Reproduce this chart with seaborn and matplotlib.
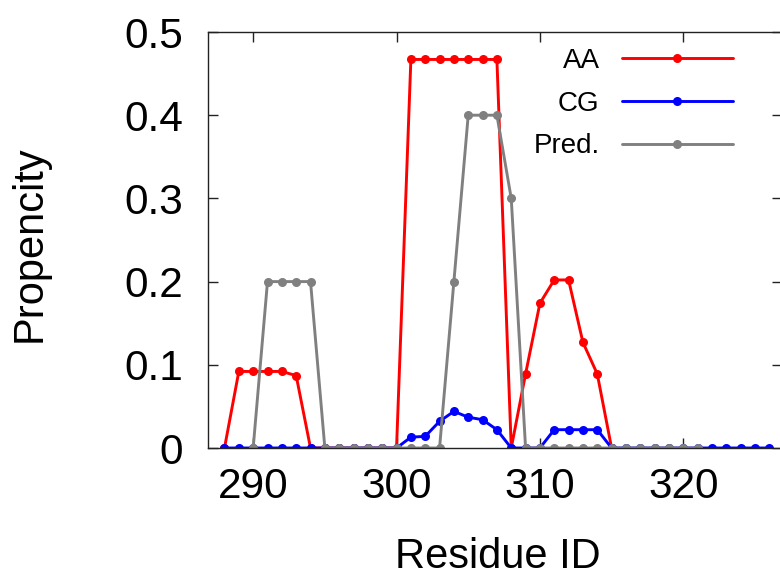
import numpy as np
import pandas as pd
import matplotlib.pyplot as plt
import seaborn as sns

# Residue IDs and propensity per data source
aa_resid = list(range(288, 316))
aa_prop = [0, 0.092, 0.092, 0.092, 0.092, 0.087, 0,
           0, 0, 0, 0, 0, 0,
           0.467, 0.467, 0.467, 0.467, 0.467, 0.467, 0.467,
           0, 0.089, 0.174, 0.202, 0.202, 0.127, 0.089, 0]

cg_resid = list(range(288, 327))
cg_prop = [0, 0, 0, 0, 0, 0, 0, 0, 0, 0, 0, 0,
           0, 0.013, 0.014, 0.032, 0.044, 0.037, 0.034, 0.022,
           0, 0, 0, 0.022, 0.022, 0.022, 0.022,
           0, 0, 0, 0, 0, 0, 0, 0, 0, 0, 0, 0]

pred_resid = list(range(290, 322))
pred_prop = [0, 0.2, 0.2, 0.2, 0.2,
             0, 0, 0, 0, 0, 0, 0, 0, 0,
             0.2, 0.4, 0.4, 0.4, 0.3,
             0, 0, 0, 0, 0, 0, 0, 0, 0, 0, 0, 0, 0]

series_names = ["AA", "CG", "Pred."]
series_colors = {"AA": "#ff0000", "CG": "#0000ff", "Pred.": "#808080"}
x_ticks = [290, 300, 310, 320]
y_ticks = [0, 0.1, 0.2, 0.3, 0.4, 0.5]
y_tick_labels = ["0", "0.1", "0.2", "0.3", "0.4", "0.5"]

df = pd.concat([
    pd.DataFrame({"Residue": aa_resid, "Propencity": aa_prop, "Series": "AA"}),
    pd.DataFrame({"Residue": cg_resid, "Propencity": cg_prop, "Series": "CG"}),
    pd.DataFrame({"Residue": pred_resid, "Propencity": pred_prop, "Series": "Pred."}),
], ignore_index=True)

sns.set_style("ticks")
plt.rcParams["font.family"] = ["Liberation Sans", "DejaVu Sans"]
plt.rcParams["text.color"] = "black"
plt.rcParams["axes.labelcolor"] = "black"
plt.rcParams["xtick.labelcolor"] = "black"
plt.rcParams["ytick.labelcolor"] = "black"

fig = plt.figure(figsize=(7.8, 5.77), dpi=100)
ax = fig.add_axes([208 / 780, 1 - 448 / 577, 573.5 / 780, 416 / 577])

sns.lineplot(data=df, x="Residue", y="Propencity", hue="Series",
             hue_order=series_names, palette=series_colors,
             marker="o", markersize=6.5, markeredgewidth=0, linewidth=2.1,
             estimator=None, ax=ax)

ax.set_xlim(286.85, 326.85)
ax.set_ylim(0, 0.5)
ax.set_xticks(x_ticks)
ax.set_yticks(y_ticks)
ax.set_yticklabels(y_tick_labels)

for s in ax.spines.values():
    s.set_color("#222222")
    s.set_linewidth(1)
ax.tick_params(direction="in", length=7, width=1, color="#222222",
               top=True, right=True, labelsize=30.5)
ax.tick_params(axis="x", pad=14)
ax.tick_params(axis="y", pad=18)

ax.set_xlabel("Residue ID", fontsize=30)
ax.set_ylabel("Propencity", fontsize=30)
ax.xaxis.label.set_va("baseline")
ax.xaxis.set_label_coords(0.505, (448 - 568) / 416)
ax.yaxis.set_label_coords((50 - 208) / 573.5, 0.49)

handles, labels = ax.get_legend_handles_labels()
ax.legend(handles, labels, markerfirst=False, frameon=False, fontsize=20,
          loc="upper right", bbox_to_anchor=(733 / 780, 1 - 48 / 577),
          bbox_transform=fig.transFigure, borderpad=0, borderaxespad=0,
          handlelength=4.0, handletextpad=0.8, labelspacing=0.6)

fig.savefig("out.png", dpi=100)
